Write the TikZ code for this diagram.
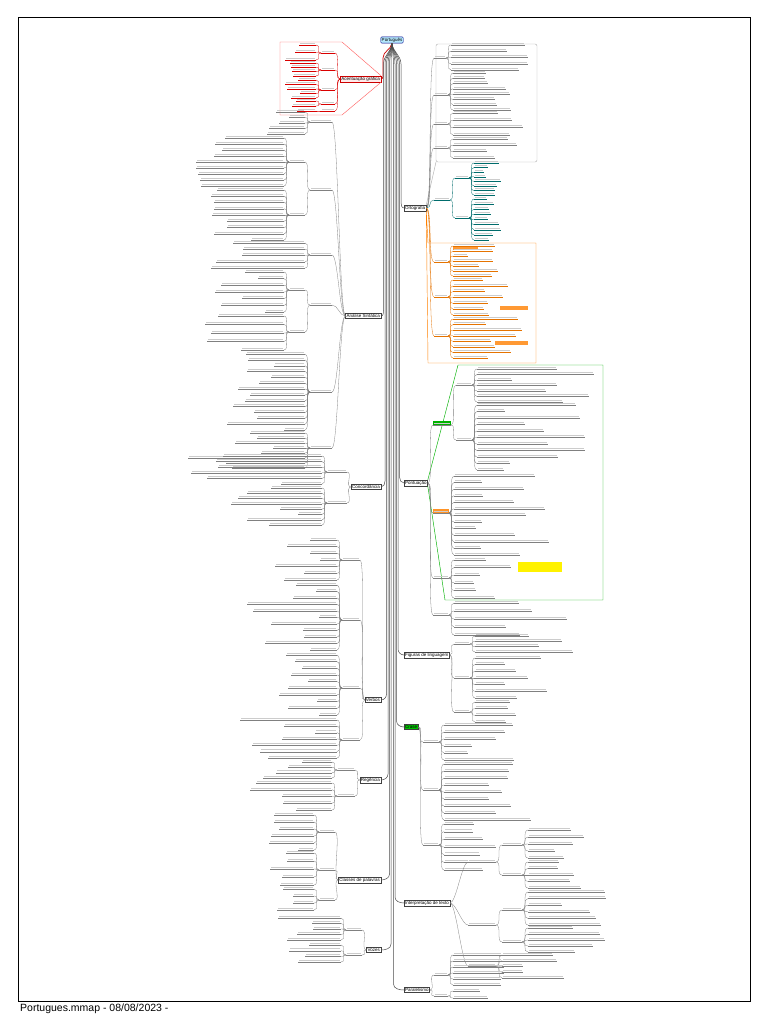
\documentclass[tikz,border=0pt]{standalone}
\usepackage{fontspec}
\setmainfont{Liberation Sans}
\usetikzlibrary{calc}
\newcommand\bcol{black!55}
\tikzset{
  conn/.style={draw=\bcol,line width=0.3pt},
  uline/.style={draw=\bcol,line width=0.35pt},
  huline/.style={draw=\bcol,line width=0.55pt},
  tbar/.style={draw=black!20,line width=1.0pt},
  mainbox/.style={draw=black!75,fill=white,line width=0.5pt,inner sep=0.9pt,font=\fontsize{4.5}{5}\selectfont},
  spine/.style={draw=black!70,line width=0.5pt},
  bound/.style={line width=0.45pt},
}
% left side: leaves hang to the left of their parent
\newcommand\leavesL[7]{%
  \foreach \i in {1,...,#5}{%
    \pgfmathsetmacro\yy{#3+(\i-1)*(#4-#3)/max(#5-1,1)}%
    \pgfmathsetmacro\ww{#6+rnd*(#7-#6)}%
    \coordinate (lf) at (#2,\yy);
    \draw[conn] (#1) .. controls +(-6,0) and +(6,0) .. (lf);
    \draw[uline] (lf) -- ++(-\ww,0);
    \draw[tbar] ($(lf)+(-1,-1.7)$) -- ++({-\ww+2},0);
  }}
\newcommand\hubL[5]{%
  \coordinate (#5r) at (#2,#3);
  \coordinate (#5) at ({#2-#4},#3);
  \draw[conn] (#1) .. controls +(-6,0) and +(6,0) .. (#5r);
  \draw[huline] (#5r) -- (#5);
  \draw[tbar] ($(#5r)+(-1,-1.7)$) -- ($(#5)+(1,-1.7)$);
}
% right side
\newcommand\leavesR[7]{%
  \foreach \i in {1,...,#5}{%
    \pgfmathsetmacro\yy{#3+(\i-1)*(#4-#3)/max(#5-1,1)}%
    \pgfmathsetmacro\ww{#6+rnd*(#7-#6)}%
    \coordinate (lf) at (#2,\yy);
    \draw[conn] (#1) .. controls +(6,0) and +(-6,0) .. (lf);
    \draw[uline] (lf) -- ++(\ww,0);
    \draw[tbar] ($(lf)+(1,-1.7)$) -- ++({\ww-2},0);
  }}
\newcommand\hubR[5]{%
  \coordinate (#5l) at (#2,#3);
  \coordinate (#5) at ({#2+#4},#3);
  \draw[conn] (#1) .. controls +(6,0) and +(-6,0) .. (#5l);
  \draw[huline] (#5l) -- (#5);
  \draw[tbar] ($(#5l)+(1,-1.7)$) -- ($(#5)+(-1,-1.7)$);
}
\begin{document}
\begin{tikzpicture}[x=1pt,y=-1pt]
\useasboundingbox (0,0) rectangle (768,1024);
\fill[white] (0,0) rectangle (768,1024);
\pgfmathsetseed{3}
% frame and footer
\draw[line width=0.8pt] (18,17) rectangle (750,1001);
\node[anchor=base west,font=\fontsize{10.5}{12}\selectfont,inner sep=0pt] (foot) at (20,1011) {Portugues.mmap - 08/08/2023 -};

% root
\node[draw=blue!55!black,fill=cyan!30,rounded corners=1pt,inner sep=1pt,font=\fontsize{4.5}{5}\selectfont] (root) at (392,40) {Português};

% main nodes, left
\node[mainbox,draw=red!80!black,fill=red!8,anchor=east] (M1) at (381,79) {Acentuação gráfica};
\node[mainbox,anchor=east] (M2) at (381,316) {Análise Sintática};
\node[mainbox,anchor=east] (M3) at (381,487) {Concordância};
\node[mainbox,anchor=east] (M4) at (381,700) {Verbos};
\node[mainbox,anchor=east] (M5) at (381,780) {Regência};
\node[mainbox,anchor=east] (M6) at (381,880) {Classes de palavras};
\node[mainbox,anchor=east] (M7) at (381,950) {Vozes};
% main nodes, right
\node[mainbox,anchor=west] (R1) at (404,208) {Ortografia};
\node[mainbox,anchor=west] (R2) at (404,483) {Pontuação};
\node[mainbox,anchor=west] (R3) at (404,655) {Figuras de linguagem};
\node[mainbox,anchor=west,fill=green!75!black] (R4) at (404,727) {Crase};
\node[mainbox,anchor=west] (R5) at (404,903) {Interpretação de texto};
\node[mainbox,anchor=west] (R6) at (404,990) {Paralelismo};

% spine connectors: a bundle of near-vertical lanes
\draw[spine,draw=red!80!black,line width=0.7pt] (root.south) to[out=-100,in=90] (383,58) -- (383,73) to[out=-90,in=0] (M1.east);
\draw[spine] (root.south) to[out=-95,in=90] (383.5,64) -- (383.5,310) to[out=-90,in=0] (M2.east);
\draw[spine] (root.south) to[out=-95,in=90] (385,64) -- (385,481) to[out=-90,in=0] (M3.east);
\draw[spine] (root.south) to[out=-95,in=90] (386.5,64) -- (386.5,694) to[out=-90,in=0] (M4.east);
\draw[spine] (root.south) to[out=-93,in=90] (388,64) -- (388,774) to[out=-90,in=0] (M5.east);
\draw[spine] (root.south) to[out=-92,in=90] (389.5,64) -- (389.5,874) to[out=-90,in=0] (M6.east);
\draw[spine] (root.south) to[out=-91,in=90] (391,64) -- (391,944) to[out=-90,in=0] (M7.east);
\draw[spine] (root.south) to[out=-85,in=90] (401,64) -- (401,202) to[out=-90,in=180] (R1.west);
\draw[spine] (root.south) to[out=-86,in=90] (399.5,64) -- (399.5,477) to[out=-90,in=180] (R2.west);
\draw[spine] (root.south) to[out=-87,in=90] (398,64) -- (398,649) to[out=-90,in=180] (R3.west);
\draw[spine] (root.south) to[out=-88,in=90] (396.5,64) -- (396.5,721) to[out=-90,in=180] (R4.west);
\draw[spine] (root.south) to[out=-89,in=90] (395,64) -- (395,897) to[out=-90,in=180] (R5.west);
\draw[spine] (root.south) to[out=-89,in=90] (393.5,64) -- (393.5,984) to[out=-90,in=180] (R6.west);

% ---------- M1 red ----------
\renewcommand\bcol{red!85!black}
\draw[bound,draw=red!60] (M1.north east) -- (342,42) -- (280,42) -- (280,115) -- (342,115) -- (M1.south east);
\hubL{M1.west}{335}{53}{14}{a1}\leavesL{a1}{316}{45}{60}{3}{15}{32}
\hubL{M1.west}{335}{70}{14}{a2}\leavesL{a2}{316}{63}{76}{4}{15}{32}
\hubL{M1.west}{335}{90}{14}{a3}\leavesL{a3}{316}{80}{98}{5}{15}{32}
\hubL{M1.west}{335}{104}{14}{a4}\leavesL{a4}{316}{101}{106}{2}{15}{25}
\hubL{M1.west}{335}{111}{14}{a5}\leavesL{a5}{316}{111}{111}{1}{15}{20}

% ---------- M2 Análise Sintática ----------
\renewcommand\bcol{black!50}
\hubL{M2.west}{332}{122}{22}{b1}\leavesL{b1}{305}{112}{134}{5}{15}{40}
\hubL{M2.west}{332}{190}{22}{b2}
\hubL{b2}{305}{162}{16}{b21}\leavesL{b21}{284}{138}{186}{9}{20}{90}
\hubL{b2}{305}{215}{16}{b22}\leavesL{b22}{284}{190}{240}{9}{20}{90}
\hubL{M2.west}{332}{255}{22}{b3}\leavesL{b3}{305}{243}{268}{5}{30}{100}
\hubL{M2.west}{332}{305}{22}{b4}
\hubL{b4}{305}{290}{16}{b41}\leavesL{b41}{284}{272}{312}{7}{15}{75}
\hubL{b4}{305}{332}{16}{b42}\leavesL{b42}{284}{316}{350}{5}{20}{80}
\hubL{M2.west}{332}{392}{22}{b5}\leavesL{b5}{305}{354}{430}{14}{20}{80}
\hubL{M2.west}{332}{448}{22}{b6}\leavesL{b6}{305}{433}{468}{8}{30}{125}

% ---------- M3 ----------
\hubL{M3.west}{347}{472}{20}{c1}\leavesL{c1}{322}{456}{484}{6}{30}{140}
\hubL{M3.west}{347}{503}{20}{c2}\leavesL{c2}{322}{488}{525}{8}{20}{100}

% ---------- M4 ----------
\hubL{M4.west}{360}{560}{18}{d1}\leavesL{d1}{337}{540}{580}{7}{15}{70}
\hubL{M4.west}{360}{620}{18}{d2}\leavesL{d2}{337}{585}{650}{11}{15}{90}
\hubL{M4.west}{360}{688}{18}{d3}\leavesL{d3}{337}{655}{715}{10}{15}{60}
\hubL{M4.west}{360}{740}{18}{d4}\leavesL{d4}{337}{720}{758}{7}{20}{100}

% ---------- M5 ----------
\hubL{M5.west}{355}{770}{18}{e1}\leavesL{e1}{332}{762}{778}{4}{30}{80}
\hubL{M5.west}{355}{796}{18}{e2}\leavesL{e2}{332}{783}{810}{5}{30}{90}

% ---------- M6 ----------
\hubL{M6.west}{335}{832}{16}{f1}\leavesL{f1}{314}{815}{850}{6}{15}{50}
\hubL{M6.west}{335}{870}{16}{f2}\leavesL{f2}{314}{853}{885}{5}{15}{45}
\hubL{M6.west}{335}{900}{16}{f3}\leavesL{f3}{314}{889}{910}{4}{20}{40}

% ---------- M7 ----------
\hubL{M7.west}{362}{930}{16}{g1}\leavesL{g1}{341}{918}{940}{5}{20}{75}
\hubL{M7.west}{362}{955}{16}{g2}\leavesL{g2}{341}{945}{962}{4}{20}{60}

% ---------- R1 Ortografia ----------
\draw[bound,draw=black!30,rounded corners=2pt] (436,44) rectangle (537,162);
\draw[bound,draw=black!30] (R1.north east) -- (436,162);
\hubR{R1.east}{434}{58}{12}{h1}\leavesR{h1}{451}{45}{70}{5}{40}{80}
\hubR{R1.east}{434}{95}{14}{h2}\leavesR{h2}{453}{73}{110}{8}{30}{80}
\hubR{R1.east}{434}{124}{14}{h3}\leavesR{h3}{453}{113}{135}{4}{30}{75}
\hubR{R1.east}{434}{148}{14}{h4}\leavesR{h4}{453}{139}{158}{4}{30}{75}
\renewcommand\bcol{teal!85!black}
\hubR{R1.east}{434}{200}{16}{i1}
\hubR{i1}{455}{178}{14}{i11}\leavesR{i11}{474}{163}{195}{8}{10}{28}
\hubR{i1}{455}{218}{14}{i12}\leavesR{i12}{474}{199}{240}{9}{10}{28}
\renewcommand\bcol{orange!90!black}
\draw[bound,draw=orange] (R1.south east) -- (428,243) -- (536,243) -- (536,363) -- (428,363) -- (R1.south east);
\fill[orange!80] (453,246) rectangle (478,250);
\fill[orange!80] (500,306) rectangle (528,310);
\fill[orange!80] (495,341) rectangle (528,345);
\hubR{R1.east}{434}{262}{14}{j1}\leavesR{j1}{453}{246}{276}{7}{10}{45}
\hubR{R1.east}{434}{297}{14}{j2}\leavesR{j2}{453}{280}{315}{7}{15}{60}
\hubR{R1.east}{434}{336}{14}{j3}\leavesR{j3}{453}{319}{358}{8}{15}{75}

% ---------- R2 Pontuação ----------
\draw[bound,draw=green!70!black] (R2.north east) -- (458,365) -- (603,365) -- (603,600) -- (445,600) -- (R2.south east);
\fill[green!70!black] (433,421) rectangle (451,425);
\fill[orange!85] (433,509) rectangle (449,513);
\fill[yellow] (518,562) rectangle (562,572);
\renewcommand\bcol{black!50}
\hubR{R2.east}{433}{425}{18}{k1}
\hubR{k1}{456}{385}{16}{k11}\leavesR{k11}{477}{369}{402}{7}{30}{120}
\hubR{k1}{456}{440}{16}{k12}\leavesR{k12}{477}{405}{470}{11}{20}{110}
\hubR{R2.east}{433}{513}{16}{k2}\leavesR{k2}{454}{476}{555}{13}{20}{100}
\hubR{R2.east}{433}{578}{16}{k3}\leavesR{k3}{454}{560}{598}{6}{20}{60}
\hubR{R2.east}{433}{615}{16}{k4}\leavesR{k4}{454}{603}{635}{5}{40}{120}

% ---------- R3 Figuras de linguagem ----------
\hubR{R3.east}{454}{644}{16}{l1}\leavesR{l1}{475}{636}{652}{4}{30}{100}
\hubR{R3.east}{454}{678}{16}{l2}\leavesR{l2}{475}{658}{698}{7}{20}{80}
\hubR{R3.east}{454}{712}{16}{l3}\leavesR{l3}{475}{702}{722}{4}{20}{60}

% ---------- R4 Crase ----------
\hubR{R4.east}{423}{742}{16}{m1}\leavesR{m1}{444}{725}{760}{6}{20}{100}
\hubR{R4.east}{423}{790}{16}{m2}\leavesR{m2}{444}{764}{820}{9}{20}{90}
\hubR{R4.east}{423}{845}{16}{m3}\leavesR{m3}{444}{824}{870}{7}{25}{60}

% ---------- R5 Interpretação de texto ----------
\hubR{R5.east}{468}{862}{28}{n1}
\hubR{n1}{502}{845}{20}{n11}\leavesR{n11}{528}{830}{858}{5}{25}{65}
\hubR{n1}{502}{875}{20}{n12}\leavesR{n12}{528}{862}{888}{5}{25}{70}
\hubR{R5.east}{468}{925}{28}{n2}
\hubR{n2}{502}{910}{20}{n21}\leavesR{n21}{528}{892}{925}{6}{30}{90}
\hubR{n2}{502}{942}{20}{n22}\leavesR{n22}{528}{928}{952}{5}{30}{85}
\hubR{R5.east}{468}{966}{28}{n3}\leavesR{n3}{502}{955}{978}{5}{20}{80}

% ---------- R6 Paralelismo ----------
\hubR{R6.east}{434}{975}{14}{o1}\leavesR{o1}{453}{955}{985}{6}{30}{60}
\hubR{R6.east}{434}{996}{14}{o2}\leavesR{o2}{453}{991}{998}{2}{20}{40}
\end{tikzpicture}
\end{document}
